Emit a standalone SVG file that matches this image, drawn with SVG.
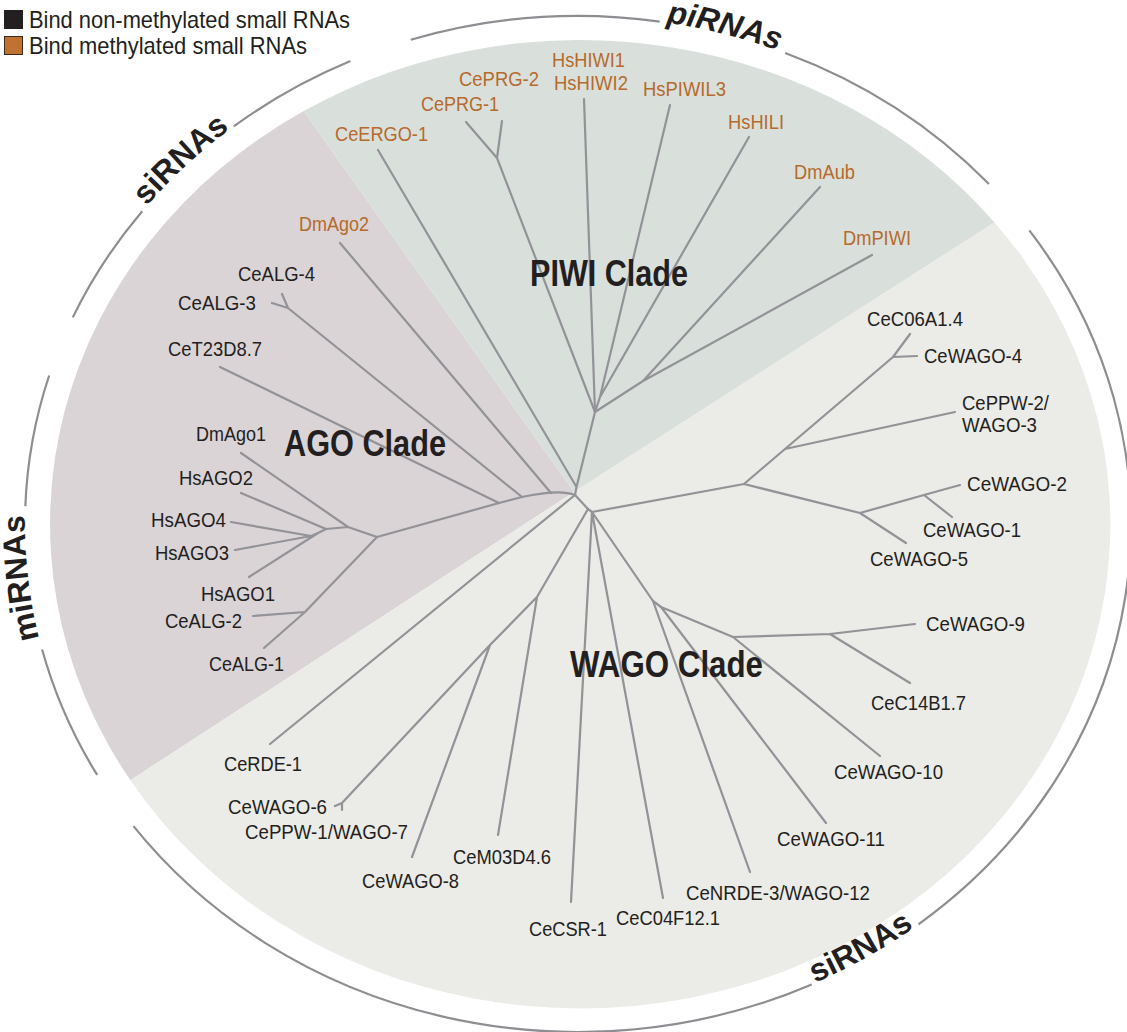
<svg xmlns="http://www.w3.org/2000/svg" width="1127" height="1032" viewBox="0 0 1127 1032">
<style>
.lbl{font-family:'Liberation Sans',Arial,sans-serif;font-size:21px;fill:#231f20}
.me{fill:#b66a2b}
.clade{font-family:'Liberation Sans',Arial,sans-serif;font-size:36px;font-weight:bold;fill:#231f20}
.arcl{font-family:'Liberation Sans',Arial,sans-serif;font-size:32px;font-weight:bold;fill:#231f20}
.leg{font-family:'Liberation Sans',Arial,sans-serif;font-size:24px;fill:#231f20}
.br{stroke:#929297;stroke-width:2.2;fill:none;stroke-linecap:round;stroke-linejoin:round}
.arc{stroke:#8e8e92;stroke-width:2.2;fill:none}
</style>
<defs>
<path id="tp1" d="M103.99,262.36 A553,508 0 0 1 289.06,90.86"/>
<path id="tp2" d="M592.48,16.17 A553,508 0 0 1 846.10,79.69"/>
<path id="tp3" d="M748.89,1007.14 A553,508 0 0 0 969.03,883.21"/>
<path id="tp4" d="M65.27,714.30 A553,508 0 0 1 33.40,435.79"/>
</defs>
<rect width="1127" height="1032" fill="#ffffff"/>
<g id="sectors">
<path d="M574,492 L130.4,780.2 A530,484 0 0 1 303.7,111 Z" fill="#dad4d7"/>
<path d="M574,492 L303.7,111 A530,484 0 0 1 994.5,222.4 Z" fill="#d9e0dc"/>
<path d="M574,492 L994.5,222.4 A530,484 0 1 1 130.4,780.2 Z" fill="#ebebe7"/>
</g>
<g id="outer-arcs">
<path class="arc" d="M72.81,317.38 A553,508 0 0 1 142.23,211.24"/>
<path class="arc" d="M233.75,126.43 A553,508 0 0 1 350.43,61.01"/>
<path class="arc" d="M410.79,39.78 A553,508 0 0 1 659.74,21.58"/>
<path class="arc" d="M785.16,52.99 A553,508 0 0 1 988.96,184.08"/>
<path class="arc" d="M1029.33,230.45 A553,508 0 0 1 918.46,924.31"/>
<path class="arc" d="M811.71,984.41 A553,508 0 0 1 133.47,826.17"/>
<path class="arc" d="M97.17,774.92 A553,508 0 0 1 42.13,649.48"/>
<path class="arc" d="M25.34,506.27 A553,508 0 0 1 49.17,375.48"/>
<text class="arcl"><textPath href="#tp1" startOffset="50%" text-anchor="middle" dy="0.36em">siRNAs</textPath></text>
<text class="arcl" font-style="italic"><textPath href="#tp2" startOffset="50%" text-anchor="middle" dy="0.36em">piRNAs</textPath></text>
<text class="arcl"><textPath href="#tp3" startOffset="50%" text-anchor="middle" dy="0.36em">siRNAs</textPath></text>
<text class="arcl"><textPath href="#tp4" startOffset="50%" text-anchor="middle" dy="0.36em">miRNAs</textPath></text>
</g>
<g id="legend">
<rect x="4.5" y="10.5" width="18" height="18" fill="#231f20" stroke="#231f20"/>
<rect x="4.5" y="36.5" width="18" height="18" fill="#c07330" stroke="#3a2a1c"/>
<text class="leg" x="29" y="28" textLength="321" lengthAdjust="spacingAndGlyphs">Bind non-methylated small RNAs</text>
<text class="leg" x="29" y="54" textLength="278" lengthAdjust="spacingAndGlyphs">Bind methylated small RNAs</text>
</g>
<g id="connectors">
<path class="br" d="M575,495 L576.5,487 M576.5,487 L378,150 M576.5,487 L595,412"/>
<path class="br" d="M595,412 L497,158 M497,158 L466,122 M497,158 L502,121"/>
<path class="br" d="M595,412 L584,99"/>
<path class="br" d="M595,412 L600,397 M600,397 L670,105 M600,397 L749,137"/>
<path class="br" d="M595,412 L643,381 M643,381 L872,255 M643,381 L820,187"/>
<path class="br" d="M575,495 C565,491 545,492 522,497 L499,503 L377,537"/>
<path class="br" d="M551,493 L340,243"/>
<path class="br" d="M522,497 L288,308 M288,308 L272,303 M288,308 L282,294"/>
<path class="br" d="M499,503 L220,367"/>
<path class="br" d="M377,537 L348,527 M348,527 L241,453 M348,527 L326,529 M326,529 L241,493"/>
<path class="br" d="M326,529 L318,533 M318,533 L249,577 M318,533 L311,536 M311,536 L231,522 M311,536 L235,550"/>
<path class="br" d="M377,537 L305,612 M305,612 L264,648 M305,612 L253,616"/>
<path class="br" d="M575,495 L588,509 M575,495 L270,744"/>
<path class="br" d="M588,509 L537,597 M537,597 L498,835 M537,597 L490,645 M490,645 L412,857 M490,645 L342,803 M342,803 L335,806 M342,803 L342,810"/>
<path class="br" d="M588,509 L592,512 M592,512 L571,902 M592,512 L663,898 M592,512 L653,601"/>
<path class="br" d="M653,601 L750,872 M653,601 L661,607 M661,607 L826,823 M661,607 L733,637 M733,637 L880,756 M733,637 L830,634 M830,634 L915,624 M830,634 L910,683"/>
<path class="br" d="M592,512 L744,484 M744,484 L785,449 M785,449 L955,412 M785,449 L893,357 M893,357 L910,334 M893,357 L917,356"/>
<path class="br" d="M744,484 L860,513 M860,513 L906,543 M860,513 L924,495 M924,495 L960,485 M924,495 L952,517"/>
</g>
<g id="clades">
<text id="piwi-clade" class="clade" x="530" y="286" textLength="158" lengthAdjust="spacingAndGlyphs">PIWI Clade</text>
<text id="ago-clade" class="clade" x="284" y="456" textLength="162" lengthAdjust="spacingAndGlyphs">AGO Clade</text>
<text id="wago-clade" class="clade" x="570" y="677" textLength="193" lengthAdjust="spacingAndGlyphs">WAGO Clade</text>
</g>
<g id="nodes">
<g id="CeERGO-1"><text class="lbl me" x="335" y="141" textLength="93" lengthAdjust="spacingAndGlyphs">CeERGO-1</text></g>
<g id="CePRG-1"><text class="lbl me" x="421" y="111" textLength="78" lengthAdjust="spacingAndGlyphs">CePRG-1</text></g>
<g id="CePRG-2"><text class="lbl me" x="459" y="86" textLength="80" lengthAdjust="spacingAndGlyphs">CePRG-2</text></g>
<g id="HsHIWI1"><text class="lbl me" x="552" y="67" textLength="73" lengthAdjust="spacingAndGlyphs">HsHIWI1</text></g>
<g id="HsHIWI2"><text class="lbl me" x="554" y="90" textLength="74" lengthAdjust="spacingAndGlyphs">HsHIWI2</text></g>
<g id="HsPIWIL3"><text class="lbl me" x="643" y="96" textLength="83" lengthAdjust="spacingAndGlyphs">HsPIWIL3</text></g>
<g id="HsHILI"><text class="lbl me" x="728" y="129" textLength="56" lengthAdjust="spacingAndGlyphs">HsHILI</text></g>
<g id="DmAub"><text class="lbl me" x="794" y="179" textLength="61" lengthAdjust="spacingAndGlyphs">DmAub</text></g>
<g id="DmPIWI"><text class="lbl me" x="843" y="245" textLength="68" lengthAdjust="spacingAndGlyphs">DmPIWI</text></g>
<g id="DmAgo2"><text class="lbl me" x="299" y="231" textLength="70" lengthAdjust="spacingAndGlyphs">DmAgo2</text></g>
<g id="CeALG-4"><text class="lbl" x="238" y="281" textLength="77" lengthAdjust="spacingAndGlyphs">CeALG-4</text></g>
<g id="CeALG-3"><text class="lbl" x="178" y="310" textLength="78" lengthAdjust="spacingAndGlyphs">CeALG-3</text></g>
<g id="CeT23D8.7"><text class="lbl" x="168" y="356" textLength="94" lengthAdjust="spacingAndGlyphs">CeT23D8.7</text></g>
<g id="DmAgo1"><text class="lbl" x="196" y="441" textLength="70" lengthAdjust="spacingAndGlyphs">DmAgo1</text></g>
<g id="HsAGO2"><text class="lbl" x="179" y="485" textLength="74" lengthAdjust="spacingAndGlyphs">HsAGO2</text></g>
<g id="HsAGO4"><text class="lbl" x="151" y="527" textLength="75" lengthAdjust="spacingAndGlyphs">HsAGO4</text></g>
<g id="HsAGO3"><text class="lbl" x="155" y="560" textLength="74" lengthAdjust="spacingAndGlyphs">HsAGO3</text></g>
<g id="HsAGO1"><text class="lbl" x="201" y="601" textLength="74" lengthAdjust="spacingAndGlyphs">HsAGO1</text></g>
<g id="CeALG-2"><text class="lbl" x="165" y="628" textLength="77" lengthAdjust="spacingAndGlyphs">CeALG-2</text></g>
<g id="CeALG-1"><text class="lbl" x="209" y="671" textLength="75" lengthAdjust="spacingAndGlyphs">CeALG-1</text></g>
<g id="CeRDE-1"><text class="lbl" x="224" y="771" textLength="78" lengthAdjust="spacingAndGlyphs">CeRDE-1</text></g>
<g id="CeWAGO-6"><text class="lbl" x="228" y="814" textLength="99" lengthAdjust="spacingAndGlyphs">CeWAGO-6</text></g>
<g id="CePPW-1"><text class="lbl" x="245" y="839" textLength="163" lengthAdjust="spacingAndGlyphs">CePPW-1/WAGO-7</text></g>
<g id="CeWAGO-8"><text class="lbl" x="362" y="888" textLength="97" lengthAdjust="spacingAndGlyphs">CeWAGO-8</text></g>
<g id="CeM03D4.6"><text class="lbl" x="453" y="864" textLength="98" lengthAdjust="spacingAndGlyphs">CeM03D4.6</text></g>
<g id="CeCSR-1"><text class="lbl" x="529" y="936" textLength="78" lengthAdjust="spacingAndGlyphs">CeCSR-1</text></g>
<g id="CeC04F12.1"><text class="lbl" x="616" y="925" textLength="104" lengthAdjust="spacingAndGlyphs">CeC04F12.1</text></g>
<g id="CeNRDE-3"><text class="lbl" x="686" y="900" textLength="184" lengthAdjust="spacingAndGlyphs">CeNRDE-3/WAGO-12</text></g>
<g id="CeWAGO-11"><text class="lbl" x="777" y="846" textLength="108" lengthAdjust="spacingAndGlyphs">CeWAGO-11</text></g>
<g id="CeWAGO-10"><text class="lbl" x="834" y="779" textLength="109" lengthAdjust="spacingAndGlyphs">CeWAGO-10</text></g>
<g id="CeC14B1.7"><text class="lbl" x="871" y="710" textLength="95" lengthAdjust="spacingAndGlyphs">CeC14B1.7</text></g>
<g id="CeWAGO-9"><text class="lbl" x="926" y="631" textLength="99" lengthAdjust="spacingAndGlyphs">CeWAGO-9</text></g>
<g id="CeWAGO-5"><text class="lbl" x="870" y="566" textLength="98" lengthAdjust="spacingAndGlyphs">CeWAGO-5</text></g>
<g id="CeWAGO-1"><text class="lbl" x="923" y="537" textLength="98" lengthAdjust="spacingAndGlyphs">CeWAGO-1</text></g>
<g id="CeWAGO-2"><text class="lbl" x="967" y="491" textLength="100" lengthAdjust="spacingAndGlyphs">CeWAGO-2</text></g>
<g id="CePPW-2"><text class="lbl" x="962" y="410" textLength="87" lengthAdjust="spacingAndGlyphs">CePPW-2/</text><text class="lbl" x="962" y="432" textLength="75" lengthAdjust="spacingAndGlyphs">WAGO-3</text></g>
<g id="CeWAGO-4"><text class="lbl" x="924" y="363" textLength="98" lengthAdjust="spacingAndGlyphs">CeWAGO-4</text></g>
<g id="CeC06A1.4"><text class="lbl" x="867" y="326" textLength="96" lengthAdjust="spacingAndGlyphs">CeC06A1.4</text></g>
</g>
</svg>
